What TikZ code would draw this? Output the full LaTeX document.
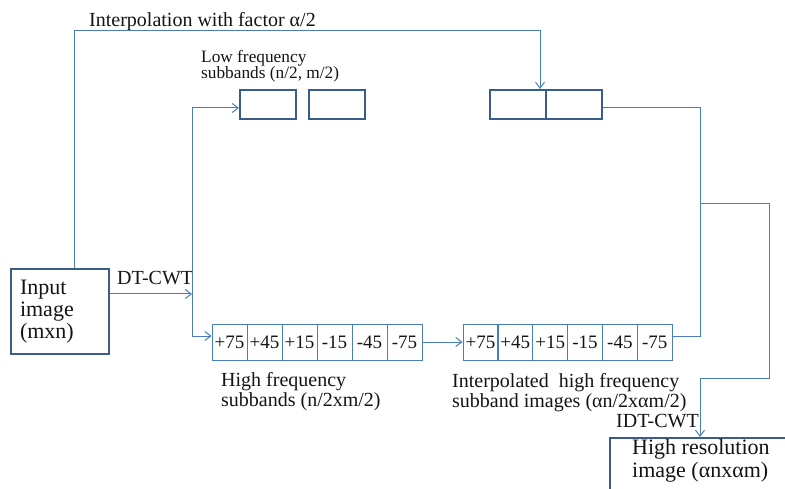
\documentclass[tikz,border=0pt]{standalone}
\usepackage{fontspec}
\setmainfont{Liberation Serif}
\usetikzlibrary{arrows.meta,calc}
\definecolor{lnc}{HTML}{4A7EBB}
\definecolor{bxc}{HTML}{385D8A}
\definecolor{txc}{HTML}{141414}
\begin{document}
\begin{tikzpicture}[x=1pt,y=-1pt,
  conn/.style={draw=lnc, line width=1pt},
  arr/.style={draw=lnc, line width=1pt, -{Straight Barb[length=6pt,width=9pt]}},
  cell/.style={draw=lnc, line width=0.9pt, minimum width=35pt, minimum height=36pt, inner sep=0pt, text=txc, font=\fontsize{19}{20}\selectfont},
  lbox/.style={draw=bxc, line width=2pt, inner sep=0pt, minimum width=56pt, minimum height=29pt},
  lab/.style={text=txc, inner sep=0pt, align=left, anchor=base west}]
\useasboundingbox (0,0) rectangle (785,489);
\clip (0,0) rectangle (785,489);

% input box
\node[draw=bxc, line width=2pt, minimum width=98pt, minimum height=85pt, text width=80pt, inner xsep=9pt, inner ysep=0pt, align=left, text=txc, font=\fontsize{22}{22}\selectfont] (in) at (60,311.5) {Input\\image\\(mxn)};

% low frequency boxes
\node[lbox] (lf1) at (268,104.5) {};
\node[lbox] (lf2) at (337,104.5) {};
\node[lbox] (lr1) at (518,104.5) {};
\node[lbox] (lr2) at (574,104.5) {};

% high frequency cells
\foreach \t [count=\i] in {+75,+45,+15,-15,-45,-75} {
  \node[cell] (h\i) at ({212+17.5+35*(\i-1)},342) {\t};
  \node[cell] (g\i) at ({463+17.5+34.85*(\i-1)},342) {\t};
}

% high resolution box
\node[draw=bxc, line width=2pt, minimum width=220pt, minimum height=90pt, anchor=north west, inner sep=0pt] (hr) at (609,437) {};

% labels (base anchor = baseline of last line)
\node[lab, font=\fontsize{20}{20}\selectfont] (l1) at (89,26.7) {Interpolation with factor α/2};
\node[lab, font=\fontsize{17.3}{16}\selectfont] (l2) at (201,78.5) {Low frequency\\subbands (n/2, m/2)};
\node[lab, font=\fontsize{20}{20}\selectfont] (l3) at (117,284) {DT-CWT};
\node[lab, font=\fontsize{20}{20}\selectfont] (l4) at (221,406.7) {High frequency\\subbands (n/2xm/2)};
\node[lab, font=\fontsize{20}{20}\selectfont] (l5) at (452,407) {Interpolated\ \ high frequency\\subband images (αn/2xαm/2)};
\node[lab, anchor=base east, font=\fontsize{20}{20}\selectfont] (l6) at (699,427) {IDT-CWT};
\node[lab, font=\fontsize{22}{23}\selectfont] (l7) at (632,477) {High resolution\\image (αnxαm)};

% connectors
\coordinate (t1) at (74,31);
\coordinate (t2) at (540,31);
\draw[arr] (t1 |- in.north) -- (t1) -- (t2) -- (t2 |- lr1.north);

\coordinate (s0) at (192,294);
\draw[arr] (s0 -| in.east) -- (s0);
\coordinate (s1) at (192,108);
\coordinate (s2) at (192,336);
\draw[arr] (s1) -- (s1 -| lf1.west);
\draw[arr] (s1) -- (s2) -- (s2 -| h1.west);

\draw[arr] (h6.east) -- (g1.west);

\coordinate (r1) at (700,108);
\coordinate (r2) at (700,336);
\draw[conn] (r1 -| lr2.east) -- (r1) -- (r2) -- (r2 -| g6.east);

\coordinate (r3) at (700,204);
\coordinate (r4) at (769,204);
\coordinate (r5) at (769,378);
\coordinate (r6) at (700,378);
\draw[arr] (r3) -- (r4) -- (r5) -- (r6) -- (r6 |- hr.north);
\end{tikzpicture}
\end{document}
